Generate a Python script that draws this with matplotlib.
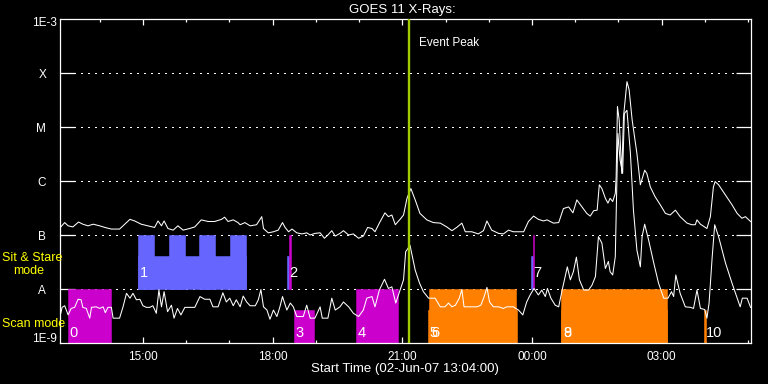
import matplotlib
matplotlib.use('Agg')
import matplotlib.pyplot as plt
from matplotlib.ticker import NullLocator, FixedLocator

plt.rcParams['font.family'] = ['Liberation Sans', 'DejaVu Sans']

START = 13 + 4 / 60          # 02-Jun-07 13:04:00
EVENT_PEAK = 21 + 9 / 60     # event peak time (clock hours)

# GOES 11 long channel (1-8 A): hours since start, log10 flux
t_long = [0.03, 0.12, 0.20, 0.31, 0.44, 0.54, 0.66, 0.78, 0.93, 1.05,
          1.20, 1.39, 1.51, 1.63, 1.74, 1.89, 2.05, 2.20, 2.28, 2.36,
          2.42, 2.51, 2.63, 2.74, 2.86, 3.01, 3.13, 3.28, 3.44, 3.59,
          3.75, 3.82, 3.90, 4.02, 4.13, 4.18, 4.29, 4.41, 4.56, 4.68,
          4.72, 4.83, 4.95, 5.06, 5.16, 5.22, 5.30, 5.38, 5.49, 5.61,
          5.72, 5.80, 5.91, 6.03, 6.13, 6.21, 6.30, 6.38, 6.49, 6.57,
          6.69, 6.80, 6.92, 7.03, 7.13, 7.23, 7.30, 7.40, 7.53, 7.61,
          7.69, 7.77, 7.88, 7.96, 8.04, 8.13, 8.23, 8.34, 8.50, 8.65,
          8.81, 8.96, 9.08, 9.19, 9.31, 9.39, 9.54, 9.69, 9.81, 9.89,
          10.00, 10.16, 10.27, 10.39, 10.50, 10.74, 10.85, 10.97, 11.08, 11.20,
          11.28, 11.43, 11.55, 11.66, 11.78, 11.88, 11.97, 12.09, 12.20, 12.28,
          12.36, 12.44, 12.49, 12.55, 12.63, 12.69, 12.74, 12.80, 12.86, 12.88,
          12.91, 12.95, 13.01, 13.05, 13.13, 13.18, 13.25, 13.36, 13.44, 13.54,
          13.59, 13.67, 13.78, 13.90, 14.02, 14.13, 14.25, 14.36, 14.52, 14.63,
          14.71, 14.75, 14.83, 14.98, 15.06, 15.13, 15.17, 15.25, 15.41, 15.56,
          15.68, 15.79, 15.87, 15.99]
logf_long = [-6.85, -6.77, -6.83, -6.85, -6.76, -6.80, -6.83, -6.80, -6.83, -6.86,
             -6.89, -6.89, -6.80, -6.71, -6.74, -6.80, -6.83, -6.86, -6.74, -6.83,
             -6.74, -6.88, -6.91, -6.83, -6.91, -6.88, -6.85, -6.72, -6.75, -6.75,
             -6.71, -6.67, -6.75, -6.72, -6.77, -6.81, -6.77, -6.83, -6.81, -6.66,
             -6.88, -6.96, -6.94, -6.91, -6.77, -6.86, -6.94, -6.89, -6.96, -6.98,
             -6.96, -7.00, -6.97, -6.96, -7.06, -7.00, -6.92, -7.02, -6.97, -6.92,
             -7.00, -6.98, -7.06, -7.02, -6.86, -6.88, -6.94, -6.78, -6.59, -6.66,
             -6.63, -6.81, -6.71, -6.63, -6.32, -6.14, -6.35, -6.60, -6.72, -6.77,
             -6.78, -6.85, -6.92, -6.86, -6.78, -6.94, -6.94, -6.98, -6.92, -6.74,
             -6.91, -6.97, -6.98, -6.91, -6.94, -6.94, -6.75, -6.65, -6.71, -6.74,
             -6.72, -6.78, -6.77, -6.51, -6.48, -6.59, -6.35, -6.48, -6.60, -6.65,
             -6.55, -6.54, -6.07, -6.14, -6.32, -6.41, -6.32, -6.38, -6.23, -5.92,
             -4.62, -4.87, -5.86, -4.81, -4.16, -4.31, -4.87, -5.49, -6.07, -5.80,
             -5.86, -6.11, -6.29, -6.44, -6.60, -6.63, -6.54, -6.66, -6.78, -6.81,
             -6.81, -6.72, -6.80, -6.88, -6.66, -6.11, -6.01, -6.07, -6.26, -6.44,
             -6.60, -6.69, -6.66, -6.75]

# GOES 11 short channel (0.5-4 A): hours since start, log10 flux
t_short = [0.03, 0.06, 0.12, 0.20, 0.27, 0.35, 0.43, 0.50, 0.54, 0.62,
           0.70, 0.74, 0.85, 0.93, 1.01, 1.06, 1.12, 1.20, 1.24, 1.39,
           1.47, 1.55, 1.63, 1.70, 1.78, 1.86, 1.93, 2.01, 2.09, 2.16,
           2.24, 2.30, 2.36, 2.42, 2.50, 2.59, 2.65, 2.73, 2.81, 2.90,
           3.01, 3.13, 3.25, 3.36, 3.48, 3.55, 3.67, 3.78, 3.86, 3.94,
           4.02, 4.09, 4.18, 4.25, 4.33, 4.41, 4.53, 4.60, 4.66, 4.72,
           4.80, 4.87, 4.95, 5.03, 5.10, 5.16, 5.26, 5.34, 5.41, 5.49,
           5.64, 5.72, 5.80, 5.91, 6.03, 6.08, 6.21, 6.30, 6.38, 6.49,
           6.57, 6.69, 6.80, 6.92, 7.03, 7.11, 7.23, 7.30, 7.40, 7.52,
           7.61, 7.69, 7.78, 7.88, 7.96, 8.01, 8.11, 8.23, 8.33, 8.42,
           8.54, 8.69, 8.81, 8.92, 9.00, 9.08, 9.16, 9.25, 9.31, 9.36,
           9.50, 9.66, 9.75, 9.83, 9.89, 9.95, 10.04, 10.16, 10.27, 10.35,
           10.50, 10.62, 10.72, 10.81, 10.89, 10.98, 11.08, 11.16, 11.24, 11.29,
           11.37, 11.47, 11.55, 11.63, 11.70, 11.75, 11.82, 11.89, 11.96, 12.03,
           12.13, 12.24, 12.32, 12.40, 12.47, 12.55, 12.63, 12.70, 12.74, 12.80,
           12.86, 12.90, 12.92, 12.97, 13.03, 13.07, 13.13, 13.21, 13.28, 13.36,
           13.44, 13.48, 13.54, 13.63, 13.75, 13.86, 13.98, 14.08, 14.16, 14.21,
           14.26, 14.36, 14.48, 14.60, 14.67, 14.75, 14.83, 14.93, 14.98, 15.03,
           15.10, 15.16, 15.25, 15.41, 15.56, 15.75, 15.80, 15.91, 15.99]
logf_short = [-8.45, -8.34, -8.31, -8.48, -8.36, -8.34, -8.19, -8.20, -8.34, -8.36,
              -8.54, -8.34, -8.33, -8.36, -8.33, -8.44, -8.34, -8.34, -8.54, -8.54,
              -8.33, -8.08, -8.17, -8.08, -8.20, -8.19, -8.31, -8.34, -8.34, -8.31,
              -8.45, -8.02, -8.33, -8.05, -8.42, -8.30, -8.54, -8.36, -8.48, -8.34,
              -8.34, -8.34, -8.14, -8.19, -8.19, -8.33, -8.33, -8.07, -8.24, -8.17,
              -8.31, -8.20, -8.33, -8.13, -8.24, -8.31, -8.31, -8.20, -8.01, -8.33,
              -8.39, -8.56, -8.39, -8.51, -8.33, -8.14, -8.39, -8.26, -8.33, -8.51,
              -8.51, -8.30, -8.54, -8.54, -8.33, -8.54, -8.54, -8.17, -8.39, -8.33,
              -8.24, -8.33, -8.45, -8.51, -8.39, -8.17, -8.14, -8.33, -8.02, -7.82,
              -7.99, -7.96, -8.26, -8.02, -7.83, -7.31, -7.19, -7.65, -7.89, -8.05,
              -8.17, -8.17, -8.33, -8.33, -8.26, -8.33, -8.30, -8.17, -8.01, -8.33,
              -8.33, -8.33, -8.30, -8.13, -7.97, -8.24, -8.33, -8.33, -8.36, -8.33,
              -8.33, -8.39, -8.48, -8.24, -8.11, -7.99, -8.11, -8.02, -8.14, -7.99,
              -8.17, -8.30, -8.33, -8.02, -7.77, -7.59, -7.83, -7.68, -7.41, -7.83,
              -8.02, -8.02, -7.93, -7.77, -7.03, -7.15, -7.62, -7.49, -7.68, -7.74,
              -7.40, -5.92, -5.12, -5.61, -5.86, -4.75, -4.69, -5.49, -6.54, -7.28,
              -7.59, -7.03, -6.80, -7.09, -7.52, -7.89, -8.17, -8.17, -8.05, -8.14,
              -7.74, -8.08, -8.33, -8.34, -8.36, -8.02, -8.36, -8.38, -8.54, -8.26,
              -7.43, -6.81, -7.03, -7.52, -7.89, -8.33, -8.17, -8.17, -8.34]

# observation rasters: start/end (hours since start), row (0 = scan, 1 = sit & stare),
# filled fraction of the row, colour
obs_start = [0.197, 1.824, 1.824, 2.535, 3.229, 3.954, 5.266, 5.305, 5.428, 6.863,
             8.523, 8.553, 10.914, 10.945, 11.609, 11.609, 14.919]
obs_end = [1.190, 4.310, 2.194, 2.905, 3.600, 4.310, 5.305, 5.352, 5.891, 7.829,
           10.583, 10.567, 10.945, 10.990, 14.056, 14.056, 14.958]
obs_row = [0, 1, 1, 1, 1, 1, 1, 1, 0, 0, 0, 0, 1, 1, 0, 0, 0]
obs_frac = [1.0, 0.61, 1.0, 1.0, 1.0, 1.0, 0.61, 1.0, 0.61, 1.0,
            0.61, 1.0, 0.61, 1.0, 0.61, 1.0, 0.61]
obs_color = ['#cc00cc', '#6666ff', '#6666ff', '#6666ff', '#6666ff', '#6666ff',
             '#6666ff', '#cc00cc', '#cc00cc', '#cc00cc', '#ff8000', '#ff8000',
             '#6666ff', '#cc00cc', '#ff8000', '#ff8000', '#ff8000']

label_text = ['0', '1', '2', '3', '4', '5', '6', '7', '8', '9', '10']
label_start = [0.197, 1.824, 5.266, 5.428, 6.863, 8.523, 8.553, 10.914, 11.609, 11.609, 14.919]
label_row = [0, 1, 1, 0, 0, 0, 0, 1, 0, 0, 0]

level_names = ['A', 'B', 'C', 'M', 'X']
level_logf = [-8, -7, -6, -5, -4]

hour_major = [15, 18, 21, 24, 27]

fig = plt.figure(figsize=(7.68, 3.84), dpi=100, facecolor='black')
ax = fig.add_axes([59.5 / 768, 1 - 343 / 384, (751 - 59.5) / 768, 324 / 384])
ax.set_facecolor('black')
ax.set_yscale('log')
ax.set_ylim(1e-9, 1e-3)
ax.set_xlim(START, START + 16)

for lv in level_logf:
    ax.axhline(10.0 ** lv, color='white', lw=0.75, ls=(0, (1, 5.3)), zorder=1,
               antialiased=False)

for s, e, r, f, c in zip(obs_start, obs_end, obs_row, obs_frac, obs_color):
    ax.fill_between([START + s, START + e], 10.0 ** (-9 + r), 10.0 ** (-9 + r + f),
                    facecolor=c, edgecolor=c, lw=0.4, zorder=2, antialiased=False)

ax.plot([START + t for t in t_long], [10.0 ** v for v in logf_long],
        color='white', lw=0.75, zorder=3)
ax.plot([START + t for t in t_short], [10.0 ** v for v in logf_short],
        color='white', lw=0.75, zorder=3)

ax.axvline(EVENT_PEAK, color='#a0cc00', lw=1.7, zorder=5)
ax.annotate('Event Peak', xy=(EVENT_PEAK, 1), xycoords=('data', 'axes fraction'),
            xytext=(7.6, -17), textcoords='offset points', color='white',
            fontsize=8.5, ha='left', va='center')

for txt, s, r in zip(label_text, label_start, label_row):
    yc = 10.0 ** (-8.81 + r * 1.115)
    ax.annotate(txt, xy=(START + s, yc), xytext=(1.3, 0), textcoords='offset points',
                color='white', fontsize=10.5, ha='left', va='center', zorder=6)

ax.set_yticks([10.0 ** v for v in level_logf], labels=level_names)
ax.yaxis.set_minor_locator(NullLocator())
ax.tick_params(axis='y', which='major', direction='in', length=10.8, width=0.9,
               colors='white', left=True, right=True, pad=9.5, labelsize=8.5)

ax.set_xticks(hour_major, labels=['%02d:00' % (h % 24) for h in hour_major])
ax.xaxis.set_minor_locator(FixedLocator(list(range(14, 30))))
ax.tick_params(axis='x', which='major', direction='in', length=4.3, width=0.9,
               colors='white', top=True, bottom=True, pad=5.5, labelsize=8.5)
ax.tick_params(axis='x', which='minor', direction='in', length=2.2, width=0.9,
               colors='white', top=True, bottom=True)
for sp in ax.spines.values():
    sp.set_color('white')
    sp.set_linewidth(0.9)

fig.text(402 / 768, 1 - 10 / 384, 'GOES 11 X-Rays:', color='white', fontsize=9.5,
         ha='center', va='center')
fig.text(405 / 768, 1 - 369 / 384, 'Start Time (02-Jun-07 13:04:00)', color='white',
         fontsize=9.5, ha='center', va='center')
fig.text(57 / 768, 1 - 23.5 / 384, '1E-3', color='white', fontsize=8.5, ha='right', va='center')
fig.text(57 / 768, 1 - 339 / 384, '1E-9', color='white', fontsize=8.5, ha='right', va='center')
fig.text(2 / 768, 1 - 258 / 384, 'Sit & Stare', color='yellow', fontsize=9, ha='left', va='center')
fig.text(13 / 768, 1 - 271 / 384, 'mode', color='yellow', fontsize=9, ha='left', va='center')
fig.text(2 / 768, 1 - 324 / 384, 'Scan mode', color='yellow', fontsize=9, ha='left', va='center')

fig.savefig('out.png', dpi=100, facecolor='black')
